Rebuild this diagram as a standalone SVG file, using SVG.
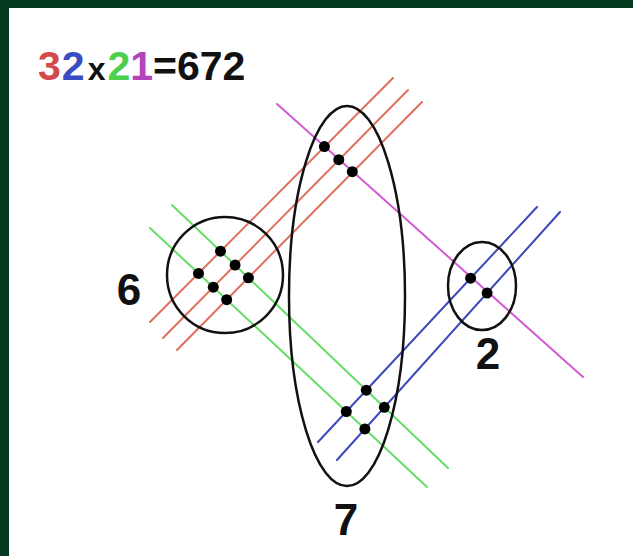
<svg xmlns="http://www.w3.org/2000/svg" width="633" height="556" viewBox="0 0 633 556">
<style>
.ln{fill:none;stroke-width:2;stroke-linecap:round}
.red{stroke:#e0705e}
.green{stroke:#66dd66}
.blue{stroke:#3a48b8}
.purple{stroke:#d45ad4}
.ring{fill:none;stroke:#111;stroke-width:2.5}
.dot{fill:#000}
.lbl{font-family:"Liberation Sans",Arial,sans-serif;font-weight:bold;fill:#111}
</style>
<rect x="0" y="0" width="633" height="556" fill="#ffffff"/>
<rect x="0" y="0" width="633" height="8" fill="#033a1f"/>
<rect x="0" y="0" width="9" height="556" fill="#033a1f"/>
<text class="lbl" x="38" y="80" font-size="41"><tspan fill="#d34a4a">3</tspan><tspan dx="1" fill="#3a4cc2">2</tspan><tspan dx="3" font-size="32">x</tspan><tspan dx="2" fill="#4ccf4c">2</tspan><tspan fill="#b444bc">1</tspan><tspan>=672</tspan></text>
<g id="lines">
<line class="ln red" x1="150" y1="322" x2="393" y2="78"/>
<line class="ln red" x1="163" y1="338" x2="408" y2="90"/>
<line class="ln red" x1="177" y1="350" x2="422" y2="102"/>
<line class="ln green" x1="172" y1="205" x2="448" y2="468"/>
<line class="ln green" x1="150" y1="228" x2="427" y2="487"/>
<line class="ln blue" x1="318" y1="442" x2="537" y2="207"/>
<line class="ln blue" x1="337" y1="460" x2="560" y2="212"/>
<line class="ln purple" x1="277" y1="104" x2="583" y2="377"/>
</g>
<g id="node-6">
<circle class="ring" cx="225" cy="275" r="58"/>
<circle class="dot" cx="220.5" cy="251.2" r="5.5"/>
<circle class="dot" cx="235.1" cy="265.1" r="5.5"/>
<circle class="dot" cx="248.4" cy="277.8" r="5.5"/>
<circle class="dot" cx="198.5" cy="273.4" r="5.5"/>
<circle class="dot" cx="213.3" cy="287.2" r="5.5"/>
<circle class="dot" cx="226.7" cy="299.7" r="5.5"/>
<text class="lbl" x="129" y="305" font-size="44" text-anchor="middle">6</text>
</g>
<g id="node-7">
<ellipse class="ring" cx="347" cy="296" rx="58" ry="190"/>
<circle class="dot" cx="324.4" cy="146.6" r="5.5"/>
<circle class="dot" cx="338.8" cy="159.7" r="5.5"/>
<circle class="dot" cx="352.3" cy="171.7" r="5.5"/>
<circle class="dot" cx="366.3" cy="390.2" r="5.5"/>
<circle class="dot" cx="384.3" cy="407.3" r="5.5"/>
<circle class="dot" cx="346.3" cy="411.5" r="5.5"/>
<circle class="dot" cx="364.9" cy="428.9" r="5.5"/>
<text class="lbl" x="346" y="535" font-size="44" text-anchor="middle">7</text>
</g>
<g id="node-2">
<ellipse class="ring" cx="482" cy="286" rx="34" ry="44"/>
<circle class="dot" cx="470.6" cy="278.2" r="5.5"/>
<circle class="dot" cx="487.1" cy="293.1" r="5.5"/>
<text class="lbl" x="488" y="369" font-size="44" text-anchor="middle">2</text>
</g>
</svg>
